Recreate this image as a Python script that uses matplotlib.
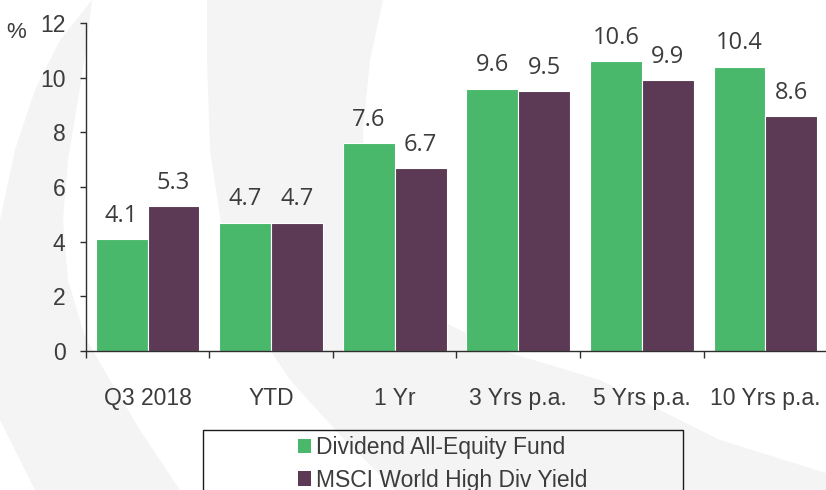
import matplotlib
matplotlib.use("Agg")
import matplotlib.pyplot as plt
from matplotlib.patches import Polygon, Rectangle, Patch
import numpy as np

# ---- data ----
categories = ["Q3 2018", "YTD", "1 Yr", "3 Yrs p.a.", "5 Yrs p.a.", "10 Yrs p.a."]
fund_values = [4.1, 4.7, 7.6, 9.6, 10.6, 10.4]
index_values = [5.3, 4.7, 6.7, 9.5, 9.9, 8.6]
series_names = ["Dividend All-Equity Fund", "MSCI World High Div Yield"]
y_ticks = [0, 2, 4, 6, 8, 10, 12]

GREEN = "#4ab86b"
PURPLE = "#5c3954"
TEXT = "#3c3c3c"
AXIS = "#2e2e2e"
WM = "#f4f4f4"

W, H = 826, 490
fig = plt.figure(figsize=(W / 100, H / 100), dpi=100)
fig.patch.set_facecolor("white")

# ---- faint watermark background (pixel coordinates, y down) ----
bg = fig.add_axes([0, 0, 1, 1], zorder=-5)
bg.set_xlim(0, W)
bg.set_ylim(H, 0)
bg.axis("off")
shape1 = [(92, 0), (60, 40), (35, 90), (15, 150), (0, 220), (-40, 330), (0, 420), (35, 490),
          (180, 490), (140, 430), (110, 380), (85, 337), (68, 280), (63, 220), (68, 160),
          (78, 100), (86, 50)]
shape2 = [(207, 0), (207, 60), (210, 150), (225, 250), (250, 320), (290, 380), (340, 435),
          (395, 490), (826, 490), (826, 473), (720, 440), (600, 380), (500, 350),
          (420, 310), (380, 260), (365, 200), (363, 130), (370, 60), (383, 0)]
for s in (shape1, shape2):
    bg.add_patch(Polygon(s, closed=True, facecolor=WM, edgecolor="none"))

# ---- main axes ----
left_px, right_px = 85.7, 827.3
bottom_px, top_px = 351, 23
ax = fig.add_axes([left_px / W, 1 - bottom_px / H, (right_px - left_px) / W, (bottom_px - top_px) / H])
ax.set_facecolor("none")

x = np.arange(len(categories))
bw = 0.42
b1 = ax.bar(x - bw / 2, fund_values, bw, color=GREEN, edgecolor="white", linewidth=0.8, zorder=2)
b2 = ax.bar(x + bw / 2, index_values, bw, color=PURPLE, edgecolor="white", linewidth=0.8, zorder=2)

for bars, vals in ((b1, fund_values), (b2, index_values)):
    for r, v in zip(bars, vals):
        ax.annotate(f"{v:.1f}", (r.get_x() + r.get_width() / 2, v), xytext=(0, 12.5),
                    textcoords="offset points", ha="center", va="baseline",
                    fontsize=17, family="Open Sans", color=TEXT)

ax.set_xlim(-0.5, len(categories) - 0.5)
ax.set_ylim(0, 12)
ax.set_yticks(y_ticks)
ax.set_yticklabels([str(t) for t in y_ticks])
ax.set_xticks(x)
ax.set_xticklabels(categories)
ax.set_xticks(np.arange(len(categories) + 1) - 0.5, minor=True)

for sp in ("top", "right"):
    ax.spines[sp].set_visible(False)
for sp in ("left", "bottom"):
    ax.spines[sp].set_color(AXIS)
    ax.spines[sp].set_linewidth(1.0)
    ax.spines[sp].set_zorder(3)

ax.tick_params(axis="y", direction="out", length=4.5, width=1.0, color=AXIS, pad=10,
               labelsize=16.5, labelcolor=TEXT)
ax.tick_params(axis="x", which="major", length=0, pad=26, labelsize=16.5, labelcolor=TEXT)
ax.tick_params(axis="x", which="minor", direction="out", length=5, width=1.0, color=AXIS)
for lab in ax.get_xticklabels() + ax.get_yticklabels():
    lab.set_family("Liberation Sans")

fig.text(16 / W, 1 - 33 / H, "%", ha="center", va="center", fontsize=16,
         family="Liberation Sans", color=TEXT)

# ---- legend ----
handles = [Patch(facecolor=GREEN, edgecolor="none"), Patch(facecolor=PURPLE, edgecolor="none")]
leg = fig.legend(handles, series_names, loc="upper center", bbox_to_anchor=(443 / W, 1 - 436 / H),
                 frameon=False, borderpad=0, borderaxespad=0, handlelength=0.57, handleheight=0.61,
                 handletextpad=0.22, labelspacing=0.42,
                 prop={"family": "Liberation Sans", "size": 16.5})
for t in leg.get_texts():
    t.set_color(TEXT)
fig.patches.append(Rectangle((203 / W, -0.05), (683 - 203) / W, (1 - 430 / H) + 0.05,
                             transform=fig.transFigure, fill=False, edgecolor="#1a1a1a",
                             linewidth=1.0, figure=fig))

fig.savefig("out.png", dpi=100)
